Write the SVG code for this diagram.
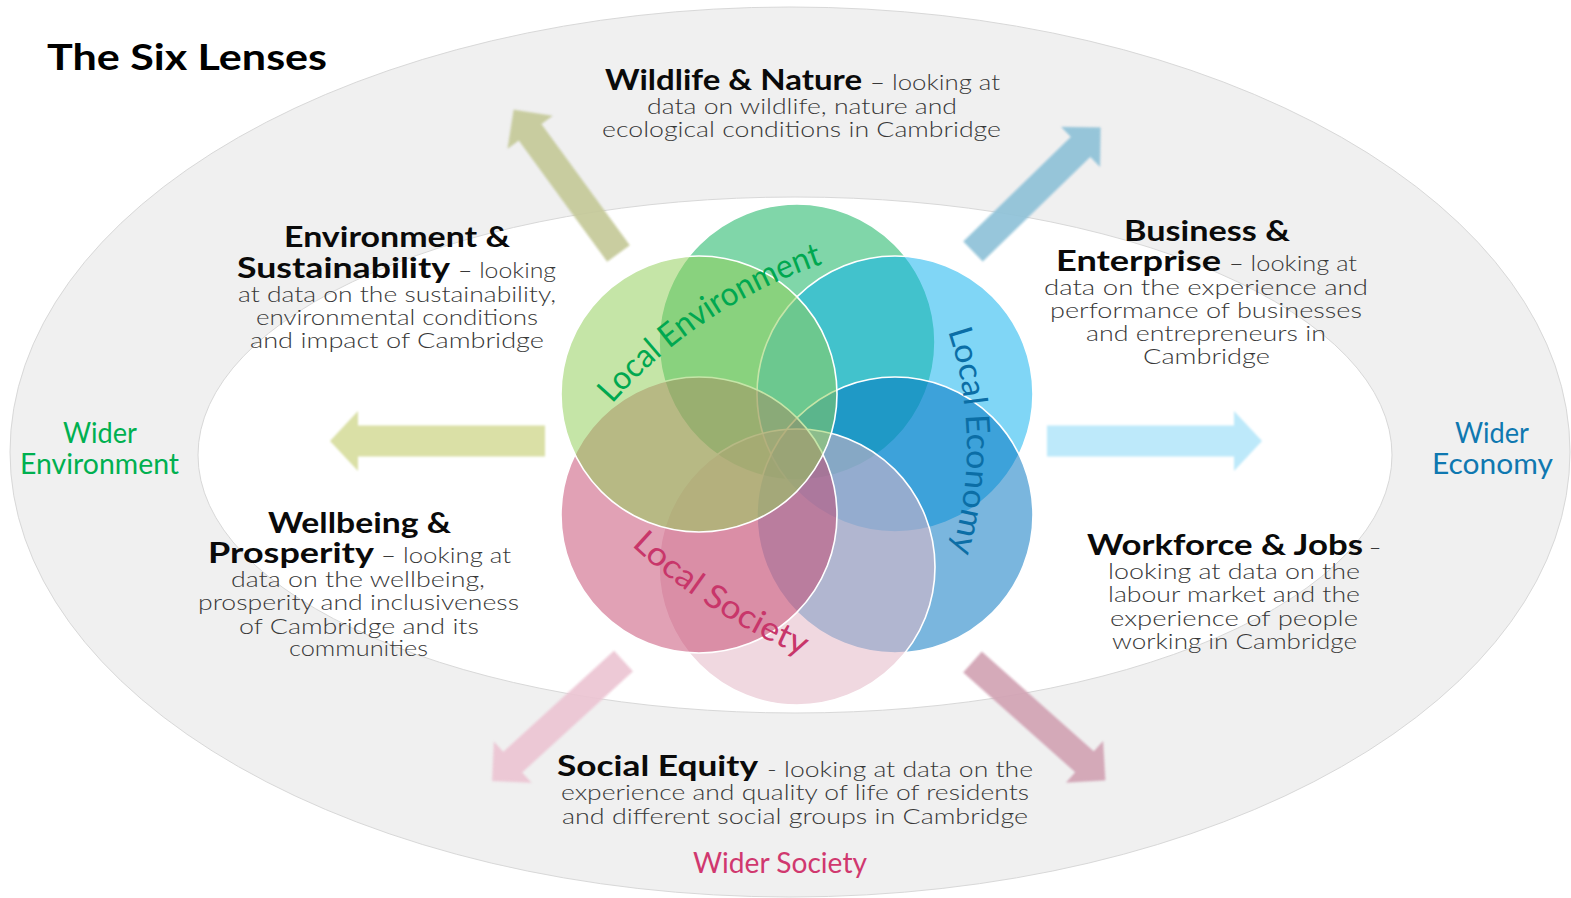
<svg xmlns="http://www.w3.org/2000/svg" width="1571" height="898" viewBox="0 0 1571 898">
<defs>
<style>
.t{font-family:Lato,"Liberation Sans",sans-serif;font-weight:700;font-size:37px;fill:#000}
.h{font-family:Lato,"Liberation Sans",sans-serif;font-weight:700;font-size:28px;fill:#0a0a0a}
.b{font-family:Lato,"Liberation Sans",sans-serif;font-weight:300;font-size:21px;fill:#383838}
.w{font-family:Lato,"Liberation Sans",sans-serif;font-weight:400;font-size:28px}
.lc{font-family:Lato,"Liberation Sans",sans-serif;font-weight:400;font-size:33px}
.c{stroke:#fff;stroke-width:1.6}
.ar{filter:url(#soft)}
</style>
<filter id="soft" x="-10%" y="-10%" width="120%" height="120%"><feGaussianBlur stdDeviation="0.8"/></filter>
<path id="arrowD" d="M0,-14 L150,-14 L150,-28 L178,0 L150,28 L150,14 L0,14 Z"/>
<path id="arrowH" d="M0,-15.5 L187,-15.5 L187,-30 L215,0 L187,30 L187,15.5 L0,15.5 Z"/>
<path id="pEnv" d="M612,404 A491,491 0 0 1 897.4,245"/>
<path id="pEco" d="M948,331 A366,366 0 0 1 944,574"/>
<path id="pSoc" d="M631.2,545.3 A576,576 0 0 0 827,665.3"/>
</defs>

<rect width="1571" height="898" fill="#fff"/>
<g id="rings">
<ellipse cx="790" cy="452" rx="780" ry="445" fill="#f0f0f0" stroke="#d8d8d8" stroke-width="1"/>
<ellipse cx="795" cy="455" rx="597" ry="258" fill="#fff" stroke="#d8d8d8" stroke-width="1"/>
</g>

<g id="connectors">
<use href="#arrowD" class="ar" fill="#c5c999" opacity="0.92" transform="translate(618.5,253.5) rotate(-126.1)"/>
<use href="#arrowD" class="ar" fill="#8fc2d8" opacity="0.92" transform="translate(973,251.5) rotate(-44.2)"/>
<use href="#arrowD" class="ar" fill="#ecc5d3" opacity="0.92" transform="translate(623.5,661) rotate(137.6)"/>
<use href="#arrowD" class="ar" fill="#d2a3b4" opacity="0.92" transform="translate(972.5,662) rotate(41.7)"/>
<use href="#arrowH" class="ar" fill="#dae0a6" transform="translate(545,441) rotate(180)"/>
<use href="#arrowH" class="ar" fill="#bde9fa" transform="translate(1047,441)"/>
</g>

<g id="local-circles">
<circle id="c-top" class="c" cx="797" cy="342" r="138" fill="#01ad53" fill-opacity="0.5"/>
<circle id="c-ur" class="c" cx="895" cy="394" r="138" fill="#06afed" fill-opacity="0.51"/>
<circle id="c-lr" class="c" cx="895" cy="515" r="138" fill="#0073c0" fill-opacity="0.52"/>
<circle id="c-bottom" class="c" cx="797" cy="567" r="138" fill="#e3b5c5" fill-opacity="0.53"/>
<circle id="c-ll" class="c" cx="699" cy="515" r="138" fill="#c3436b" fill-opacity="0.5"/>
<circle id="c-ul" class="c" cx="699" cy="394" r="138" fill="#92ce59" fill-opacity="0.53"/>
</g>

<g id="local-labels">
<text class="lc" fill="#00a850"><textPath href="#pEnv" textLength="256" lengthAdjust="spacingAndGlyphs">Local Environment</textPath></text>
<text class="lc" fill="#0b6ea6"><textPath href="#pEco" textLength="224" lengthAdjust="spacingAndGlyphs">Local Economy</textPath></text>
<text class="lc" fill="#c8366a"><textPath href="#pSoc" textLength="205" lengthAdjust="spacingAndGlyphs">Local Society</textPath></text>
</g>

<g id="title">
<text class="t" x="47" y="70" textLength="280" lengthAdjust="spacingAndGlyphs">The Six Lenses</text>
</g>

<g id="lens-wildlife">
<text class="h" x="605" y="90" textLength="257" lengthAdjust="spacingAndGlyphs">Wildlife &amp; Nature</text>
<text class="b" x="870" y="90" textLength="130" lengthAdjust="spacingAndGlyphs">– looking at</text>
<text class="b" x="647" y="114" textLength="310" lengthAdjust="spacingAndGlyphs">data on wildlife, nature and</text>
<text class="b" x="602" y="137" textLength="399" lengthAdjust="spacingAndGlyphs">ecological conditions in Cambridge</text>
</g>

<g id="lens-environment">
<text class="h" x="284" y="247" textLength="226" lengthAdjust="spacingAndGlyphs">Environment &amp;</text>
<text class="h" x="237" y="278" textLength="213" lengthAdjust="spacingAndGlyphs">Sustainability</text>
<text class="b" x="458" y="278" textLength="98" lengthAdjust="spacingAndGlyphs">– looking</text>
<text class="b" x="238" y="302" textLength="318" lengthAdjust="spacingAndGlyphs">at data on the sustainability,</text>
<text class="b" x="256" y="325" textLength="282" lengthAdjust="spacingAndGlyphs">environmental conditions</text>
<text class="b" x="250" y="348" textLength="294" lengthAdjust="spacingAndGlyphs">and impact of Cambridge</text>
</g>

<g id="lens-business">
<text class="h" x="1124" y="241" textLength="166" lengthAdjust="spacingAndGlyphs">Business &amp;</text>
<text class="h" x="1056" y="271" textLength="165" lengthAdjust="spacingAndGlyphs">Enterprise</text>
<text class="b" x="1229" y="271" textLength="128" lengthAdjust="spacingAndGlyphs">– looking at</text>
<text class="b" x="1044" y="295" textLength="324" lengthAdjust="spacingAndGlyphs">data on the experience and</text>
<text class="b" x="1050" y="318" textLength="312" lengthAdjust="spacingAndGlyphs">performance of businesses</text>
<text class="b" x="1086" y="341" textLength="240" lengthAdjust="spacingAndGlyphs">and entrepreneurs in</text>
<text class="b" x="1143" y="364" textLength="127" lengthAdjust="spacingAndGlyphs">Cambridge</text>
</g>

<g id="lens-wellbeing">
<text class="h" x="268" y="533" textLength="183" lengthAdjust="spacingAndGlyphs">Wellbeing &amp;</text>
<text class="h" x="208" y="563" textLength="166" lengthAdjust="spacingAndGlyphs">Prosperity</text>
<text class="b" x="381" y="563" textLength="130" lengthAdjust="spacingAndGlyphs">– looking at</text>
<text class="b" x="231" y="587" textLength="254" lengthAdjust="spacingAndGlyphs">data on the wellbeing,</text>
<text class="b" x="198" y="610" textLength="321" lengthAdjust="spacingAndGlyphs">prosperity and inclusiveness</text>
<text class="b" x="239" y="634" textLength="240" lengthAdjust="spacingAndGlyphs">of Cambridge and its</text>
<text class="b" x="289" y="656" textLength="139" lengthAdjust="spacingAndGlyphs">communities</text>
</g>

<g id="lens-workforce">
<text class="h" x="1087" y="555" textLength="276" lengthAdjust="spacingAndGlyphs">Workforce &amp; Jobs</text>
<text class="b" x="1369" y="555">–</text>
<text class="b" x="1108" y="579" textLength="252" lengthAdjust="spacingAndGlyphs">looking at data on the</text>
<text class="b" x="1108" y="602" textLength="252" lengthAdjust="spacingAndGlyphs">labour market and the</text>
<text class="b" x="1110" y="626" textLength="248" lengthAdjust="spacingAndGlyphs">experience of people</text>
<text class="b" x="1112" y="649" textLength="245" lengthAdjust="spacingAndGlyphs">working in Cambridge</text>
</g>

<g id="lens-social">
<text class="h" x="557" y="776" textLength="201" lengthAdjust="spacingAndGlyphs">Social Equity</text>
<text class="b" x="767" y="777" textLength="266" lengthAdjust="spacingAndGlyphs">- looking at data on the</text>
<text class="b" x="561" y="800" textLength="468" lengthAdjust="spacingAndGlyphs">experience and quality of life of residents</text>
<text class="b" x="562" y="824" textLength="466" lengthAdjust="spacingAndGlyphs">and different social groups in Cambridge</text>
</g>

<g id="wider-environment">
<text class="w" fill="#00b050" x="63" y="443" textLength="74" lengthAdjust="spacingAndGlyphs">Wider</text>
<text class="w" fill="#00b050" x="20" y="474" textLength="159" lengthAdjust="spacingAndGlyphs">Environment</text>
</g>
<g id="wider-economy">
<text class="w" fill="#0f78b0" x="1455" y="443" textLength="74" lengthAdjust="spacingAndGlyphs">Wider</text>
<text class="w" fill="#0f78b0" x="1432" y="474" textLength="121" lengthAdjust="spacingAndGlyphs">Economy</text>
</g>
<g id="wider-society">
<text class="w" fill="#d0386f" x="693" y="873" textLength="174" lengthAdjust="spacingAndGlyphs">Wider Society</text>
</g>
</svg>
